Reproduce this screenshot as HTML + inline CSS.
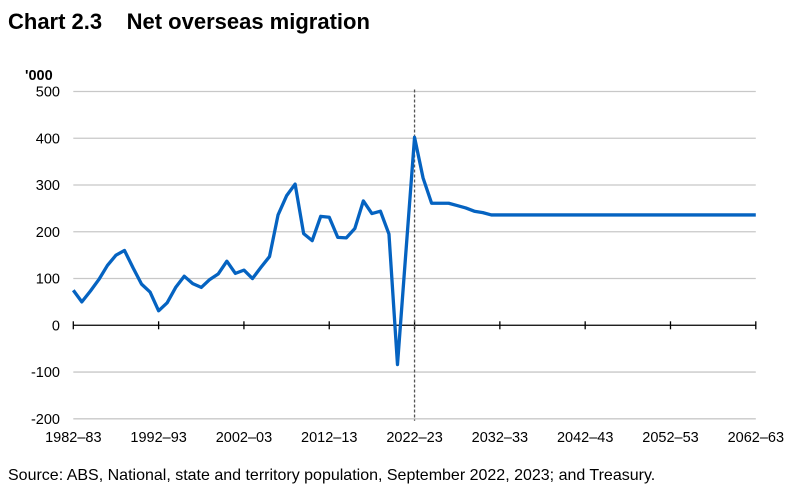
<!DOCTYPE html>
<html><head><meta charset="utf-8">
<style>
body{margin:0;background:#fff;width:795px;height:492px;overflow:hidden;font-family:"Liberation Sans",Arial,sans-serif;}
#title{position:absolute;left:8px;top:9px;font-size:22px;font-weight:bold;color:#000;white-space:pre;}
#src{position:absolute;left:8px;top:467px;font-size:16px;color:#000;white-space:nowrap;}
svg{position:absolute;left:0;top:0;}
</style></head><body>
<div id="title">Chart 2.3    Net overseas migration</div>
<svg id="chart" width="795" height="492"></svg>
<div id="src">Source: ABS, National, state and territory population, September 2022, 2023; and Treasury.</div>
<script>
const startYear = 1982;
const values = [75,50,73,98,128,150,160,123,88,71,31,48,81,105,89,81,98,110,137,111,118,100,124,147,236,277,302,196,181,233,231,188,187,207,266,239,244,195,-84,160,402,315,261,261,261,256,251,244,241,236,236,236,236,236,236,236,236,236,236,236,236,236,236,236,236,236,236,236,236,236,236,236,236,236,236,236,236,236,236,236,236];
const yTicks = [500,400,300,200,100,0,-100,-200];
const xTickLabels = ["1982–83","1992–93","2002–03","2012–13","2022–23","2032–33","2042–43","2052–53","2062–63"];
const xTickYears = [1982,1992,2002,2012,2022,2032,2042,2052,2062];
const projectionYear = 2022;

const NS="http://www.w3.org/2000/svg";
const svg=document.getElementById('chart');
const x0=73.3,x1=755.8,yTop=91.5,yBot=418.8;
const xs=y=>x0+(y-startYear)/80*(x1-x0);
const ys=v=>yTop+(500-v)/700*(yBot-yTop);
function mk(t,a){const e=document.createElementNS(NS,t);for(const k in a)e.setAttribute(k,a[k]);svg.appendChild(e);return e;}
yTicks.forEach(v=>{
  if(v!==0){const g=mk('line',{x1:x0,x2:x1,y1:ys(v),y2:ys(v),stroke:'#c8c8c8','stroke-width':1.3});
  
  }
  const t=mk('text',{x:60,y:ys(v)+5,'text-anchor':'end','font-size':14.5,fill:'#000','font-family':'Liberation Sans, Arial, sans-serif'});
  t.textContent=v;
  
  
});
const u=mk('text',{x:25,y:80,'font-size':14.5,'font-weight':'bold',fill:'#000','font-family':'Liberation Sans, Arial, sans-serif'});
u.textContent="'000";


const ax=mk('line',{x1:x0,x2:x1,y1:ys(0),y2:ys(0),stroke:'#000','stroke-width':1.3});


xTickYears.forEach((yr,i)=>{
  const tk=mk('line',{x1:xs(yr),x2:xs(yr),y1:ys(0)-4,y2:ys(0)+4,stroke:'#000','stroke-width':1.3});
  
  
  const t=mk('text',{x:xs(yr),y:442,'text-anchor':'middle','font-size':14.5,fill:'#000','font-family':'Liberation Sans, Arial, sans-serif'});
  t.textContent=xTickLabels[i];
  
  
});
const pl=mk('line',{x1:xs(projectionYear),x2:xs(projectionYear),y1:yTop-2,y2:yBot+2,stroke:'#555','stroke-width':1.3,'stroke-dasharray':'3,2'});


const d=values.map((v,i)=>(i?'L':'M')+xs(startYear+i).toFixed(2)+','+ys(v).toFixed(2)).join('');
const p=mk('path',{d:d,fill:'none',stroke:'#0563C1','stroke-width':3.3,'stroke-linejoin':'round'});


</script>
</body></html>
